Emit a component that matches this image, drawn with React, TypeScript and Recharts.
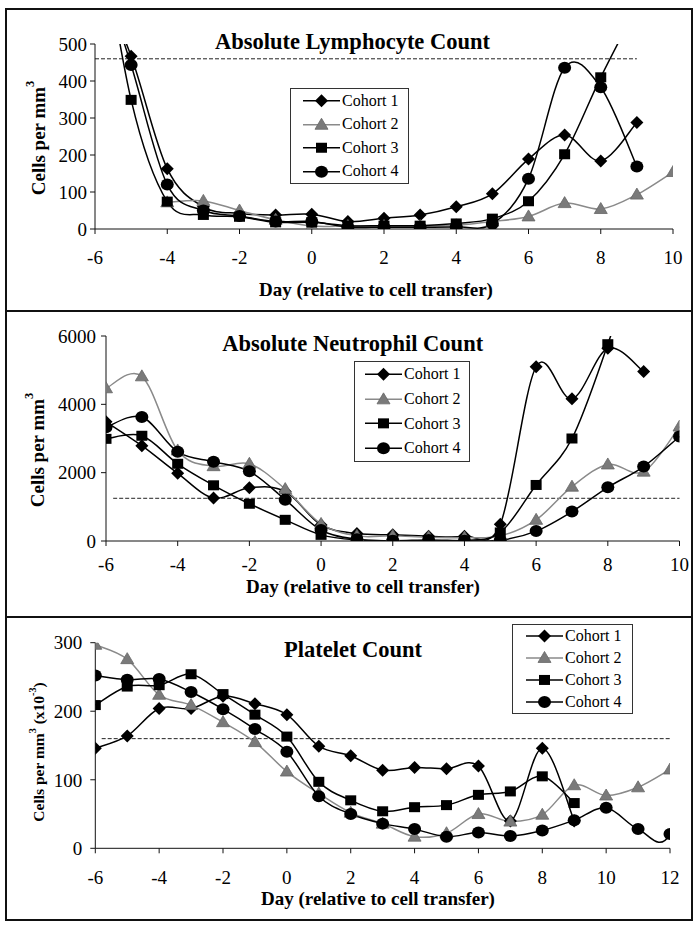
import React from "react";
import { LineChart, Line, XAxis, YAxis, ReferenceLine, Legend } from "recharts";

// Absolute lymphocyte count (cells per mm3), days -6..10. Values above 500 run off the plot.
const lymphDays = [-6, -5, -4, -3, -2, -1, 0, 1, 2, 3, 4, 5, 6, 7, 8, 9, 10];
const lymphC1 = [700, 467, 163, 60, 42, 38, 40, 20, 29, 38, 60, 95, 189, 254, 184, 288, null];
const lymphC2 = [null, null, 72, 76, 50, 25, 8, 8, 8, 8, 10, 20, 34, 70, 54, 93, 154];
const lymphC3 = [900, 349, 74, 38, 33, 18, 18, 9, 9, 9, 15, 28, 75, 202, 410, 600, null];
const lymphC4 = [750, 443, 120, 50, 35, 20, 20, 5, 5, 5, 6, 14, 136, 436, 383, 169, null];
const lymphNormal = 460;
const lymphNormalSpan = [-6, 9];

// Absolute neutrophil count (cells per mm3), days -6..10
const neutDays = [-6, -5, -4, -3, -2, -1, 0, 1, 2, 3, 4, 5, 6, 7, 8, 9, 10];
const neutC1 = [3490, 2790, 1980, 1260, 1560, 1450, 470, 220, 180, 140, 140, 490, 5100, 4160, 5640, 4960, null];
const neutC2 = [4470, 4820, 2650, 2190, 2260, 1520, 500, 150, 150, 110, 100, 150, 620, 1590, 2240, 2030, 3350];
const neutC3 = [2990, 3080, 2260, 1630, 1090, 620, 180, 30, 10, 10, 10, 250, 1640, 3000, 5760, 9000, null];
const neutC4 = [3330, 3630, 2610, 2320, 2040, 1210, 320, 50, 10, 30, 10, 20, 290, 860, 1570, 2180, 3060];
const neutNormal = 1250;
const neutNormalSpan = [-5.8, 10];

// Platelet count (x10^-3 per mm3), days -6..13 (day 13 lies past the axis end)
const pltDays = [-6, -5, -4, -3, -2, -1, 0, 1, 2, 3, 4, 5, 6, 7, 8, 9, 10, 11, 12, 13];
const pltC1 = [146, 164, 204, 204, 222, 211, 195, 149, 135, 114, 118, 116, 120, 40, 146, 40, null, null, null, null];
const pltC2 = [297, 276, 224, 209, 184, 155, 112, 80, 52, 36, 17, 22, 50, 39, 49, 92, 77, 89, 115, null];
const pltC3 = [209, 236, 238, 254, 225, 195, 163, 97, 70, 54, 60, 63, 78, 83, 105, 66, null, null, null, null];
const pltC4 = [252, 246, 247, 228, 203, 174, 141, 76, 50, 36, 28, 17, 23, 18, 26, 41, 59, 28, 21, 200];
const pltNormal = 160;
const pltNormalSpan = [-5.8, 12];

const cohortNames = ["Cohort 1", "Cohort 2", "Cohort 3", "Cohort 4"];

const SERIF = "'Liberation Serif', 'Times New Roman', serif";
const GREY = "#8a8a8a";

const SERIES = [
  { key: "c1", shape: "diamond", line: "#000", fill: "#000" },
  { key: "c2", shape: "triangle", line: GREY, fill: "#7a7a7a" },
  { key: "c3", shape: "square", line: "#000", fill: "#000" },
  { key: "c4", shape: "circle", line: "#000", fill: "#000" },
];

const toRows = (days: number[], c1: any[], c2: any[], c3: any[], c4: any[]) =>
  days.map((day, i) => ({ day, c1: c1[i], c2: c2[i], c3: c3[i], c4: c4[i] }));

// Excel style smoothed line (Catmull-Rom through every point)
const excelSmooth = (context: any) => {
  let pts: number[][] = [];
  return {
    areaStart() {},
    areaEnd() {},
    lineStart() {
      pts = [];
    },
    point(x: number, y: number) {
      pts.push([+x, +y]);
    },
    lineEnd() {
      const n = pts.length;
      if (!n) return;
      context.moveTo(pts[0][0], pts[0][1]);
      for (let i = 0; i < n - 1; i++) {
        const p0 = pts[Math.max(i - 1, 0)];
        const p1 = pts[i];
        const p2 = pts[i + 1];
        const p3 = pts[Math.min(i + 2, n - 1)];
        context.bezierCurveTo(
          p1[0] + (p2[0] - p0[0]) / 6,
          p1[1] + (p2[1] - p0[1]) / 6,
          p2[0] - (p3[0] - p1[0]) / 6,
          p2[1] - (p3[1] - p1[1]) / 6,
          p2[0],
          p2[1]
        );
      }
    },
  };
};

const Marker = ({ shape, x, y, fill }: any) => {
  if (shape === "diamond")
    return <path d={`M${x},${y - 6.5}L${x + 6.5},${y}L${x},${y + 6.5}L${x - 6.5},${y}Z`} fill={fill} />;
  if (shape === "triangle")
    return <path d={`M${x},${y - 6.5}L${x + 6.5},${y + 4.5}L${x - 6.5},${y + 4.5}Z`} fill={fill} stroke="#666" strokeWidth={0.8} />;
  if (shape === "square") return <rect x={x - 5.5} y={y - 5} width={11} height={10} fill={fill} />;
  return <ellipse cx={x} cy={y} rx={6.5} ry={6} fill={fill} />;
};

const makeDot = (shape: string, fill: string) => (props: any) => {
  const { cx, cy, index, value } = props;
  if (value == null || cx == null || cy == null) return <g key={`e-${index}`} />;
  return (
    <g key={`d-${index}`}>
      <Marker shape={shape} x={cx} y={cy} fill={fill} />
    </g>
  );
};

const LegendBox = ({ rowHeight, padLeft, width }: any) => (
  <div style={{ width, boxSizing: "border-box", border: "1px solid #333", background: "#fff", paddingLeft: padLeft - 1 }}>
    {SERIES.map((s, i) => (
      <div key={s.key} style={{ display: "flex", alignItems: "center", height: rowHeight }}>
        <svg width={38} height={rowHeight} style={{ display: "block" }}>
          <line x1={0} x2={37} y1={rowHeight / 2} y2={rowHeight / 2} stroke={s.line} strokeWidth={1.5} />
          <Marker shape={s.shape} x={18.5} y={rowHeight / 2} fill={s.fill} />
        </svg>
        <span style={{ fontFamily: SERIF, fontSize: 16, color: "#000", marginLeft: 1, whiteSpace: "nowrap" }}>
          {cohortNames[i]}
        </span>
      </div>
    ))}
  </div>
);

const tickStyle = { fill: "#000", fontSize: 19, fontFamily: SERIF };

const Panel = ({ top, height, margin, rows, xDomain, xTicks, yDomain, yTicks, yTickMargin, xTickMargin, normal, span, legend }: any) => (
  <div style={{ position: "absolute", left: 0, top, width: 698, height }}>
    <LineChart width={698} height={height} data={rows} margin={margin}>
      <XAxis
        type="number"
        dataKey="day"
        domain={xDomain}
        ticks={xTicks}
        interval={0}
        allowDataOverflow
        height={30}
        tickSize={5}
        tickMargin={xTickMargin}
        stroke="#111"
        tick={tickStyle}
      />
      <YAxis
        type="number"
        domain={yDomain}
        ticks={yTicks}
        interval={0}
        allowDataOverflow
        width={60}
        tickSize={5}
        tickMargin={yTickMargin}
        stroke="#111"
        tick={tickStyle}
      />
      <ReferenceLine
        segment={[{ x: span[0], y: normal }, { x: span[1], y: normal }]}
        stroke="#222"
        strokeDasharray="4 2"
        strokeWidth={1}
      />
      {SERIES.map((s) => (
        <Line
          key={s.key}
          dataKey={s.key}
          type={excelSmooth as any}
          stroke={s.line}
          strokeWidth={1.5}
          dot={makeDot(s.shape, s.fill)}
          activeDot={false}
          isAnimationActive={false}
        />
      ))}
      <Legend
        layout="vertical"
        verticalAlign="middle"
        align="center"
        wrapperStyle={{ left: legend.left, top: legend.top, width: legend.width }}
        content={() => <LegendBox rowHeight={legend.rowHeight} padLeft={legend.padLeft} width={legend.width} />}
      />
    </LineChart>
  </div>
);

const YTitle = ({ x, y, size, extra }: any) => (
  <text
    x={x}
    y={y}
    transform={`rotate(-90, ${x}, ${y})`}
    textAnchor="middle"
    dominantBaseline="central"
    fontFamily={SERIF}
    fontWeight="bold"
    fontSize={size}
    fill="#000"
  >
    {extra ? (
      <>
        Cells per mm
        <tspan dy={-size * 0.4} fontSize={size * 0.65}>3</tspan>
        <tspan dy={size * 0.4}> (x10</tspan>
        <tspan dy={-size * 0.4} fontSize={size * 0.65}>-3</tspan>
        <tspan dy={size * 0.4}>)</tspan>
      </>
    ) : (
      <>
        Cells per mm
        <tspan dy={-size * 0.4} fontSize={size * 0.65}>3</tspan>
      </>
    )}
  </text>
);

const TitleText = ({ x, y, size, children }: any) => (
  <text x={x} y={y} textAnchor="middle" fontFamily={SERIF} fontWeight="bold" fontSize={size} fill="#000">
    {children}
  </text>
);

export default function App() {
  const evenTo10 = [-6, -4, -2, 0, 2, 4, 6, 8, 10];
  const evenTo12 = [-6, -4, -2, 0, 2, 4, 6, 8, 10, 12];
  return (
    <div style={{ position: "absolute", left: 0, top: 0, width: 698, height: 929, background: "#fff", fontFamily: SERIF }}>
      <Panel
        top={0}
        height={311}
        margin={{ top: 44, right: 25, left: 35, bottom: 52 }}
        rows={toRows(lymphDays, lymphC1, lymphC2, lymphC3, lymphC4)}
        xDomain={[-6, 10]}
        xTicks={evenTo10}
        yDomain={[0, 500]}
        yTicks={[0, 100, 200, 300, 400, 500]}
        yTickMargin={3}
        xTickMargin={17}
        normal={lymphNormal}
        span={lymphNormalSpan}
        legend={{ left: 290, top: 88, width: 119, rowHeight: 23.5, padLeft: 13 }}
      />
      <Panel
        top={311}
        height={306}
        margin={{ top: 25, right: 18.5, left: 46, bottom: 46 }}
        rows={toRows(neutDays, neutC1, neutC2, neutC3, neutC4)}
        xDomain={[-6, 10]}
        xTicks={evenTo10}
        yDomain={[0, 6000]}
        yTicks={[0, 2000, 4000, 6000]}
        yTickMargin={5}
        xTickMargin={12}
        normal={neutNormal}
        span={neutNormalSpan}
        legend={{ left: 354, top: 50, width: 116, rowHeight: 24.7, padLeft: 11 }}
      />
      <Panel
        top={617}
        height={312}
        margin={{ top: 25.7, right: 28, left: 35.3, bottom: 50.7 }}
        rows={toRows(pltDays, pltC1, pltC2, pltC3, pltC4)}
        xDomain={[-6, 12]}
        xTicks={evenTo12}
        yDomain={[0, 300]}
        yTicks={[0, 100, 200, 300]}
        yTickMargin={8}
        xTickMargin={17}
        normal={pltNormal}
        span={pltNormalSpan}
        legend={{ left: 512, top: 7, width: 121, rowHeight: 21.9, padLeft: 14 }}
      />
      <svg width={698} height={929} style={{ position: "absolute", left: 0, top: 0, pointerEvents: "none" }}>
        <rect x={6} y={9} width={686} height={911} fill="none" stroke="#111" strokeWidth={2} />
        <line x1={6} x2={692} y1={311} y2={311} stroke="#111" strokeWidth={2} />
        <line x1={6} x2={692} y1={617} y2={617} stroke="#111" strokeWidth={2} />
        <TitleText x={352.5} y={48.5} size={22.5}>Absolute Lymphocyte Count</TitleText>
        <TitleText x={352.7} y={350.7} size={22.5}>Absolute Neutrophil Count</TitleText>
        <TitleText x={353} y={657.3} size={22.5}>Platelet Count</TitleText>
        <TitleText x={376} y={296} size={19}>Day (relative to cell transfer)</TitleText>
        <TitleText x={363} y={593} size={19}>Day (relative to cell transfer)</TitleText>
        <TitleText x={378} y={905} size={19}>Day (relative to cell transfer)</TitleText>
        <YTitle x={38} y={138} size={19} />
        <YTitle x={37} y={450} size={19} />
        <YTitle x={38} y={752} size={15.5} extra />
      </svg>
    </div>
  );
}
